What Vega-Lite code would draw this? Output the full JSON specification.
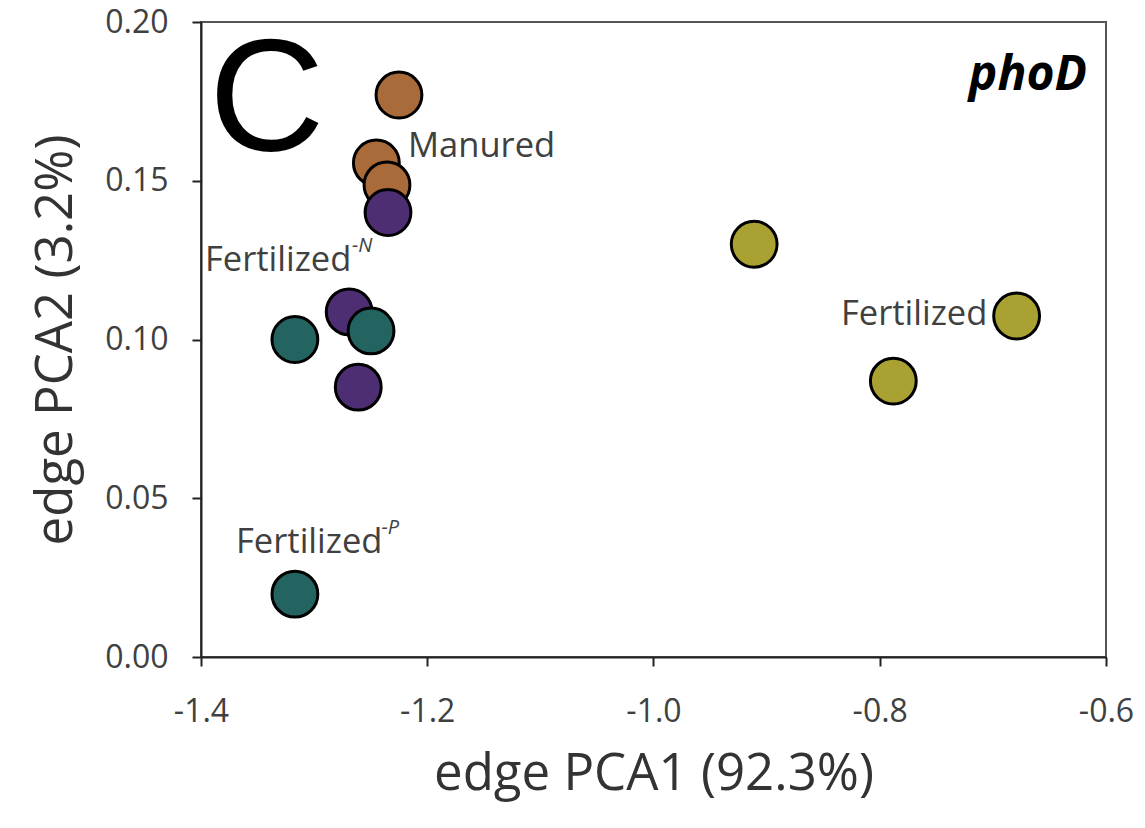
{
  "$schema": "https://vega.github.io/schema/vega-lite/v6.json",
  "width": 905,
  "height": 635,
  "autosize": {"type": "none"},
  "padding": {"left": 201, "top": 22, "right": 39, "bottom": 171},
  "background": "white",
  "config": {
    "font": "Open Sans",
    "view": {"stroke": "#555", "strokeWidth": 2},
    "axis": {
      "grid": false,
      "domainColor": "#222",
      "domainWidth": 2,
      "tickColor": "#222",
      "tickWidth": 2,
      "tickSize": 9,
      "labelFont": "Open Sans",
      "labelFontSize": 32,
      "labelColor": "#404040",
      "titleFont": "Open Sans",
      "titleFontWeight": "normal",
      "titleFontSize": 51,
      "titleColor": "#333"
    }
  },
  "datasets": {
    "points": [
      {"pc1": -1.225, "pc2": 0.177, "group": "Manured"},
      {"pc1": -1.245, "pc2": 0.1556, "group": "Manured"},
      {"pc1": -1.2356, "pc2": 0.1487, "group": "Manured"},
      {"pc1": -1.2347, "pc2": 0.140, "group": "Fertilized-N"},
      {"pc1": -1.269, "pc2": 0.1087, "group": "Fertilized-N"},
      {"pc1": -1.261, "pc2": 0.085, "group": "Fertilized-N"},
      {"pc1": -1.317, "pc2": 0.100, "group": "Fertilized-P"},
      {"pc1": -1.2497, "pc2": 0.1027, "group": "Fertilized-P"},
      {"pc1": -1.317, "pc2": 0.0198, "group": "Fertilized-P"},
      {"pc1": -0.911, "pc2": 0.130, "group": "Fertilized"},
      {"pc1": -0.679, "pc2": 0.1074, "group": "Fertilized"},
      {"pc1": -0.788, "pc2": 0.0869, "group": "Fertilized"}
    ],
    "labels": [
      {"pc1": -1.217, "pc2": 0.1575, "text": "Manured"},
      {"pc1": -1.3965, "pc2": 0.1216, "text": "Fertilized"},
      {"pc1": -0.8343, "pc2": 0.1046, "text": "Fertilized"},
      {"pc1": -1.369, "pc2": 0.0328, "text": "Fertilized"}
    ],
    "sups": [
      {"pc1": -1.2665, "pc2": 0.1276, "text": "-N"},
      {"pc1": -1.2405, "pc2": 0.0387, "text": "-P"}
    ],
    "panel": [
      {"pc1": -1.393, "pc2": 0.1597, "text": "C"}
    ],
    "gene": [
      {"pc1": -0.6168, "pc2": 0.1786, "text": "phoD"}
    ]
  },
  "layer": [
    {
      "data": {"name": "points"},
      "mark": {"type": "point", "shape": "circle", "filled": true, "size": 2100, "stroke": "black", "strokeWidth": 3, "opacity": 1, "fillOpacity": 1, "strokeOpacity": 1},
      "encoding": {
        "x": {"field": "pc1", "type": "quantitative", "scale": {"domain": [-1.4, -0.6], "nice": false, "zero": false},
              "axis": {"title": "edge PCA1 (92.3%)", "values": [-1.4, -1.2, -1.0, -0.8, -0.6], "labelExpr": "replace(format(datum.value, '.1f'), '−', '-')", "labelPadding": 30, "titlePadding": 22, "labelFlush": false}},
        "y": {"field": "pc2", "type": "quantitative", "scale": {"domain": [0, 0.2], "nice": false, "zero": false},
              "axis": {"title": "edge PCA2 (3.2%)", "values": [0, 0.05, 0.1, 0.15, 0.2], "format": ".2f", "labelPadding": 24, "titlePadding": 22, "labelFlush": false}},
        "fill": {"field": "group", "type": "nominal", "legend": null,
                 "scale": {"domain": ["Manured", "Fertilized-N", "Fertilized-P", "Fertilized"],
                           "range": ["#A96B39", "#4D2E73", "#236460", "#A9A233"]}}
      }
    },
    {
      "data": {"name": "labels"},
      "mark": {"type": "text", "align": "left", "baseline": "alphabetic", "fontSize": 34.5, "font": "Open Sans", "color": "#404040"},
      "encoding": {
        "x": {"field": "pc1", "type": "quantitative"},
        "y": {"field": "pc2", "type": "quantitative"},
        "text": {"field": "text"}
      }
    },
    {
      "data": {"name": "sups"},
      "mark": {"type": "text", "align": "left", "baseline": "alphabetic", "fontSize": 20, "fontStyle": "italic", "font": "Open Sans", "color": "#404040"},
      "encoding": {
        "x": {"field": "pc1", "type": "quantitative"},
        "y": {"field": "pc2", "type": "quantitative"},
        "text": {"field": "text"}
      }
    },
    {
      "data": {"name": "panel"},
      "mark": {"type": "text", "align": "left", "baseline": "alphabetic", "fontSize": 160, "font": "Liberation Sans", "color": "black"},
      "encoding": {
        "x": {"field": "pc1", "type": "quantitative"},
        "y": {"field": "pc2", "type": "quantitative"},
        "text": {"field": "text"}
      }
    },
    {
      "data": {"name": "gene"},
      "mark": {"type": "text", "align": "right", "baseline": "alphabetic", "fontSize": 48, "fontStyle": "italic", "fontWeight": "bold", "font": "Open Sans", "color": "black"},
      "encoding": {
        "x": {"field": "pc1", "type": "quantitative"},
        "y": {"field": "pc2", "type": "quantitative"},
        "text": {"field": "text"}
      }
    }
  ]
}
